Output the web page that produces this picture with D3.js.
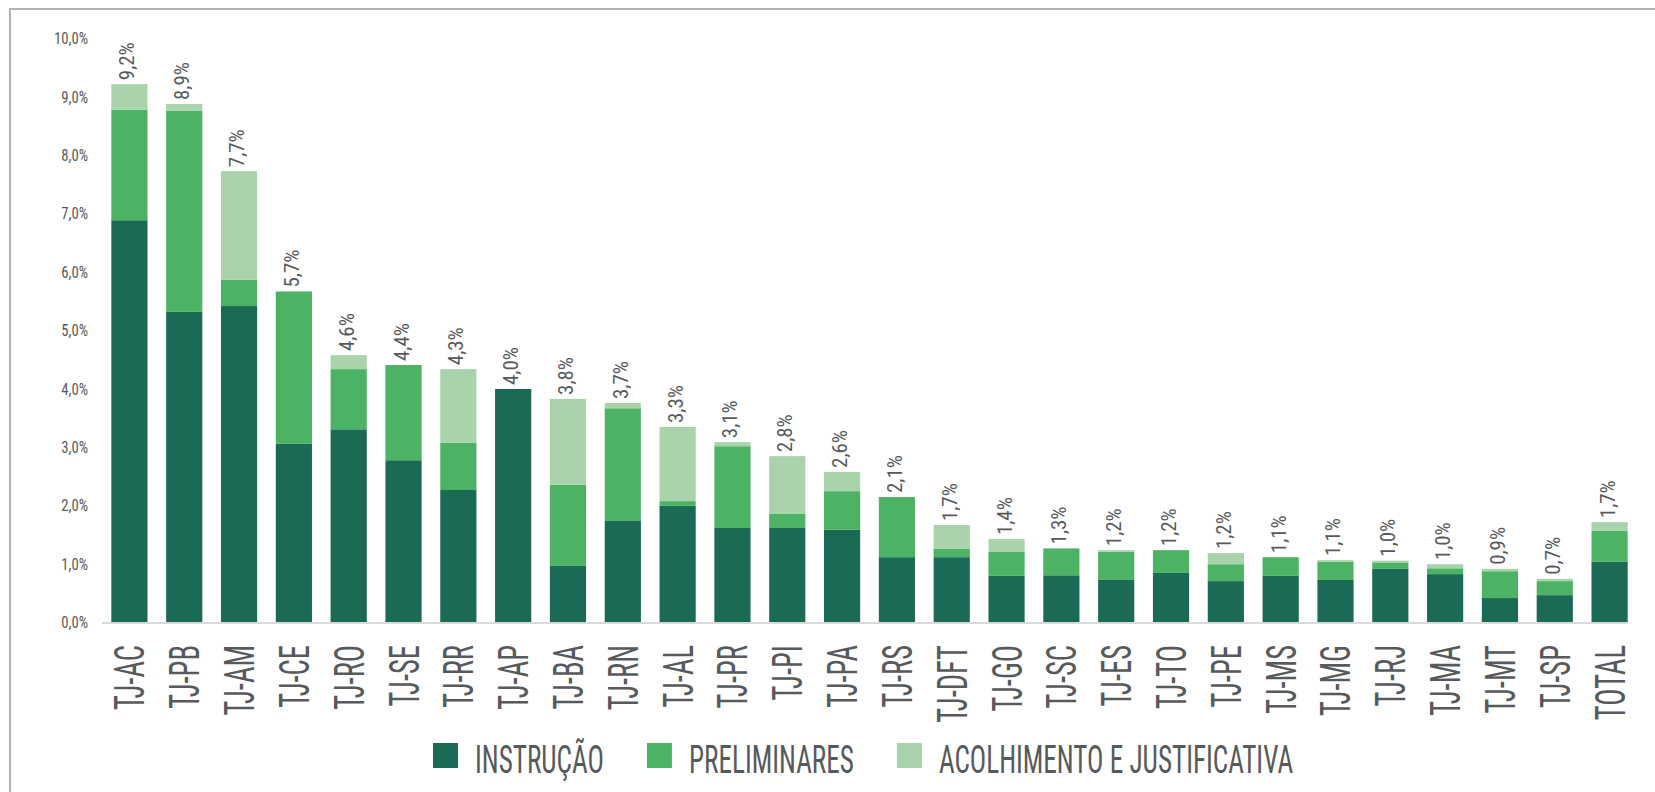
<!DOCTYPE html>
<html>
<head>
  <meta charset="utf-8">
  <title>chart</title>
  <style>
    body { margin: 0; background: #fff; }
  </style>
</head>
<body>
<script src="https://cdnjs.cloudflare.com/ajax/libs/d3/7.8.5/d3.min.js"></script>
<script>
// data (percent)
const categories = ["TJ-AC","TJ-PB","TJ-AM","TJ-CE","TJ-RO","TJ-SE","TJ-RR","TJ-AP","TJ-BA","TJ-RN",
  "TJ-AL","TJ-PR","TJ-PI","TJ-PA","TJ-RS","TJ-DFT","TJ-GO","TJ-SC","TJ-ES","TJ-TO",
  "TJ-PE","TJ-MS","TJ-MG","TJ-RJ","TJ-MA","TJ-MT","TJ-SP","TOTAL"];
const instrucao    = [6.88,5.31,5.41,3.05,3.30,2.77,2.26,3.99,0.96,1.73,1.99,1.61,1.61,1.58,1.11,1.11,0.79,0.80,0.72,0.84,0.70,0.79,0.72,0.91,0.82,0.41,0.46,1.03];
const preliminares = [1.89,3.44,0.45,2.61,1.03,1.63,0.81,0.00,1.39,1.93,0.08,1.40,0.24,0.66,1.03,0.14,0.41,0.46,0.48,0.39,0.29,0.32,0.31,0.11,0.10,0.46,0.24,0.53];
const acolhimento  = [0.44,0.12,1.86,0.00,0.24,0.00,1.26,0.00,1.47,0.09,1.27,0.07,0.99,0.33,0.00,0.41,0.22,0.00,0.03,0.00,0.19,0.00,0.03,0.03,0.07,0.04,0.04,0.15];
const totalLabels  = ["9,2%","8,9%","7,7%","5,7%","4,6%","4,4%","4,3%","4,0%","3,8%","3,7%",
  "3,3%","3,1%","2,8%","2,6%","2,1%","1,7%","1,4%","1,3%","1,2%","1,2%",
  "1,2%","1,1%","1,1%","1,0%","1,0%","0,9%","0,7%","1,7%"];
const seriesNames = ["INSTRUÇÃO", "PRELIMINARES", "ACOLHIMENTO E JUSTIFICATIVA"];
const yTicks = [0,1,2,3,4,5,6,7,8,9,10];

const colors = ["#1b6a55", "#4cb365", "#a9d3ab"];
const textColor = "#575a5c";
const FONT = "'Liberation Sans Narrow','Roboto Condensed','Arial Narrow','Liberation Sans',Arial,sans-serif";

const width = 1655, height = 792;

const svg = d3.select("body").append("svg")
  .attr("width", width)
  .attr("height", height)
  .style("font-family", FONT);

// outer frame (only top and left edges show)
svg.append("rect")
  .attr("x", 10).attr("y", 9)
  .attr("width", 1800).attr("height", 900)
  .attr("fill", "none")
  .attr("stroke", "#b3b3b3")
  .attr("stroke-width", 2);

const x = d3.scaleBand()
  .domain(categories)
  .range([102, 1637])
  .paddingInner(0.34)
  .paddingOuter(0.17);

const y = d3.scaleLinear()
  .domain([0, 10])
  .range([622, 38]);

// squeeze text horizontally so it looks like the narrow font of the original
function squeeze(sample, size, target) {
  const t = svg.append("text").attr("font-size", size).text(sample);
  const k = target / t.node().getComputedTextLength();
  t.remove();
  return k;
}

const rows = categories.map((c, i) => ({
  cat: c,
  instrucao: instrucao[i],
  preliminares: preliminares[i],
  acolhimento: acolhimento[i],
  label: totalLabels[i]
}));
const keys = ["instrucao", "preliminares", "acolhimento"];
const stacked = d3.stack().keys(keys)(rows);

svg.append("g")
  .selectAll("g")
  .data(stacked)
  .join("g")
  .attr("fill", (d, i) => colors[i])
  .selectAll("rect")
  .data(d => d)
  .join("rect")
  .attr("x", d => x(d.data.cat))
  .attr("width", x.bandwidth())
  .attr("y", d => y(d[1]))
  .attr("height", d => y(d[0]) - y(d[1]));

// baseline
svg.append("line")
  .attr("x1", x.range()[0])
  .attr("x2", x(categories[categories.length - 1]) + x.bandwidth())
  .attr("y1", y(0) + 1).attr("y2", y(0) + 1)
  .attr("stroke", "#d9d9d9")
  .attr("stroke-width", 2);

// y axis
const kY = squeeze("10,0%", 16, 34);
const yAxis = svg.append("g")
  .attr("transform", "translate(88,0)")
  .call(d3.axisLeft(y).tickValues(yTicks).tickSize(0).tickPadding(0)
    .tickFormat(d => d.toFixed(1).replace(".", ",") + "%"))
  .attr("font-family", null)
  .attr("font-size", null);
yAxis.select(".domain").remove();
yAxis.selectAll("text")
  .attr("x", 0)
  .attr("dy", "0.36em")
  .attr("font-size", 16)
  .attr("fill", textColor)
  .attr("transform", `scale(${kY},1)`);

// x axis labels
const kX = squeeze("TJ-AC", 42, 65);
const xAxis = svg.append("g")
  .attr("transform", `translate(0,${y(0)})`)
  .call(d3.axisBottom(x).tickSize(0).tickPadding(0))
  .attr("font-family", null)
  .attr("font-size", null);
xAxis.select(".domain").remove();
xAxis.selectAll("text")
  .attr("x", 0).attr("y", 0).attr("dy", null)
  .attr("text-anchor", "end")
  .attr("font-size", 42)
  .attr("fill", textColor)
  .attr("transform", `translate(15,23) rotate(-90) scale(${kX},1)`);

// total labels above bars
const kV = squeeze("9,2%", 21, 38);
svg.append("g")
  .selectAll("text")
  .data(rows)
  .join("text")
  .attr("text-anchor", "start")
  .attr("font-size", 21)
  .attr("fill", textColor)
  .attr("transform", d => {
    const top = y(d.instrucao + d.preliminares + d.acolhimento);
    return `translate(${x(d.cat) + x.bandwidth() / 2 + 5},${top - 4}) rotate(-90) scale(${kV},1)`;
  })
  .text(d => d.label);

// legend
const kL = squeeze("INSTRUÇÃO", 39, 129);
const legend = svg.append("g");
let lx = 433;
seriesNames.forEach((name, i) => {
  legend.append("rect")
    .attr("x", lx).attr("y", 743)
    .attr("width", 25).attr("height", 25)
    .attr("fill", colors[i]);
  const t = legend.append("text")
    .attr("font-size", 39)
    .attr("fill", textColor)
    .attr("transform", `translate(${lx + 42},772.5) scale(${kL},1)`)
    .text(name);
  lx += 42 + t.node().getComputedTextLength() * kL + 43;
});
</script>
</body>
</html>
